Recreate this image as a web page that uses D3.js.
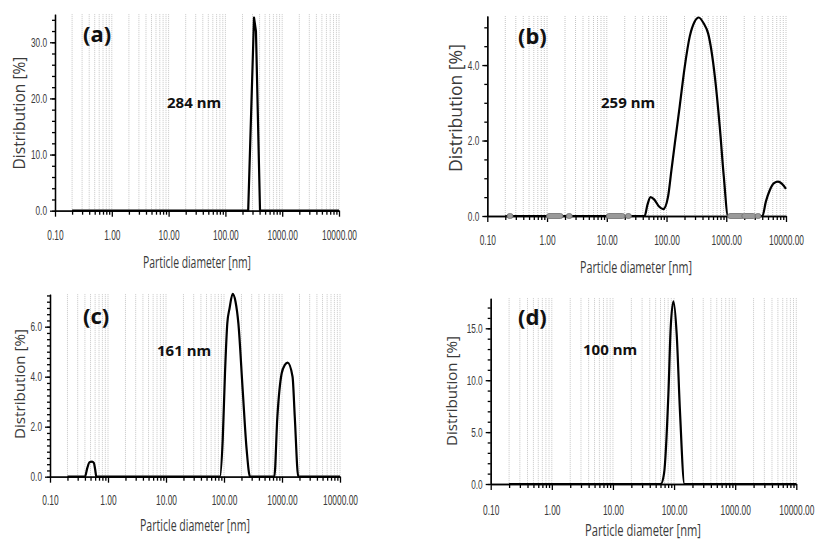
<!DOCTYPE html>
<html>
<head>
<meta charset="utf-8">
<script src="https://cdn.jsdelivr.net/npm/d3@7"></script>
<style>
  body { margin: 0; background: #fff; }
  svg { display: block; }
  .tick text { font-family: "Liberation Sans", Arial, sans-serif; fill: #3a3a3a; }
  .xa .tick text { font-size: 15px; }
  .ya .tick text { font-size: 12.5px; }
  .axis path, .axis line { stroke: #000; stroke-width: 1.3; }
  .ttl { font-family: "Open Sans", "Noto Sans", sans-serif; fill: #3a3a3a; }
  .lab { font-family: "Noto Sans", "Open Sans", sans-serif; font-weight: bold; fill: #111; }
</style>
</head>
<body>
<svg id="chart" width="818" height="540"></svg>
<script>
const xTickLabels = ["0.10", "1.00", "10.00", "100.00", "1000.00", "10000.00"];
const xTickValues = [0.1, 1, 10, 100, 1000, 10000];

// (a) 284 nm
const sizesA = [0.2, 252, 319, 345, 407, 10000];
const distA  = [0, 0, 34.4, 32.0, 0, 0];

// (b) 259 nm
const sizesB = [0.2, 43, 48, 54, 62, 75, 88, 106, 121, 138, 166, 202, 245, 295, 347, 420, 497, 645, 778, 910, 1070, 4030, 4600, 5370, 6300, 7350, 8500, 10000];
const distB  = [0, 0, 0.3, 0.5, 0.44, 0.25, 0.18, 0.51, 1.22, 1.93, 2.9, 3.96, 4.76, 5.15, 5.26, 5.1, 4.84, 3.69, 2.37, 1.04, 0, 0, 0.38, 0.69, 0.87, 0.91, 0.86, 0.72];
// grey markers sitting on the baseline of (b): [from, to] diameter
const markersB = [[0.24, 0.24], [1.1, 1.65], [2.35, 2.35], [11, 18], [23, 23], [1180, 1790], [2040, 2800], [3400, 3400]];

// (c) 161 nm
const sizesC = [0.2, 0.40, 0.44, 0.48, 0.53, 0.57, 0.60, 0.63, 85, 95, 104, 114, 125, 141, 158, 177, 210, 246, 281, 737, 832, 986, 1120, 1250, 1520, 1660, 1910, 10000];
const distC  = [0, 0, 0.35, 0.58, 0.6, 0.55, 0.3, 0, 0, 1.47, 4.13, 6.13, 6.75, 7.31, 7.0, 6.13, 3.47, 1.07, 0, 0, 2.4, 4.13, 4.47, 4.56, 4.0, 2.4, 0, 0];

// (d) 100 nm
const sizesD = [0.2, 60.6, 68.6, 80.7, 88, 97.7, 110.6, 125, 148, 10000];
const distD  = [0, 0, 1.03, 8.6, 15.0, 17.6, 14.35, 6.97, 0, 0];

// y ticks per panel
const yMajorA = [0, 10, 20, 30], yMinorStepA = 2, yMaxA = 35;
const yMajorB = [0, 2, 4], yMinorStepB = 0.5, yMaxB = 5.3;
const yMajorC = [0, 2, 4, 6], yMinorStepC = 0.25, yMaxC = 7.3;
const yMajorD = [0, 5, 10, 15], yMinorStepD = 1, yMaxD = 17.9;

// panel layout (pixel placement only)
const panels = [
  { id: "(a)", note: "284 nm", sizes: sizesA, dist: distA, yMajor: yMajorA, yStep: yMinorStepA, yMax: yMaxA,
    left: 55, right: 339, base: 210.7, top: 14.2, curve: d3.curveLinear, labOff: 29.3,
    labX: 83, labY: 42, noteX: 167, noteY: 108,
    yt: { x: 19, y: 113, len: 113 }, xt: { x: 197, y: 268, len: 108 } },
  { id: "(b)", note: "259 nm", sizes: sizesB, dist: distB, yMajor: yMajorB, yStep: yMinorStepB, yMax: yMaxB,
    left: 487.3, right: 786, base: 216, top: 16, curve: d3.curveMonotoneX, labOff: 29, markers: markersB,
    labX: 518, labY: 44, noteX: 601, noteY: 108,
    yt: { x: 455, y: 108, len: 128 }, xt: { x: 636, y: 273, len: 112 } },
  { id: "(c)", note: "161 nm", sizes: sizesC, dist: distC, yMajor: yMajorC, yStep: yMinorStepC, yMax: yMaxC,
    left: 50, right: 340, base: 476.7, top: 294.2, curve: d3.curveMonotoneX, labOff: 28.3,
    labX: 83, labY: 324, noteX: 157, noteY: 356,
    yt: { x: 19, y: 384, len: 110 }, xt: { x: 195, y: 531, len: 110 } },
  { id: "(d)", note: "100 nm", sizes: sizesD, dist: distD, yMajor: yMajorD, yStep: yMinorStepD, yMax: yMaxD,
    left: 490.7, right: 796.3, base: 484, top: 298.2, curve: d3.curveMonotoneX, labOff: 31,
    labX: 518, labY: 325, noteX: 583, noteY: 355,
    yt: { x: 451, y: 391, len: 110 }, xt: { x: 643, y: 536, len: 116 } }
];

const svg = d3.select("#chart");

// narrow a tick label around its own anchor (the originals use a condensed face)
function squeeze(sel, f) {
  sel.each(function() {
    const t = d3.select(this);
    const x0 = +t.attr("x") || 0;
    t.attr("x", x0 / f).attr("transform", "scale(" + f + ",1)");
  });
}

function drawPanel(p) {
  const g = svg.append("g");
  const x = d3.scaleLog().domain([0.1, 10000]).range([p.left, p.right]);
  const y = d3.scaleLinear().domain([0, p.yMax]).range([p.base, p.top]);

  // minor log positions 2..10 per decade, 0.2 .. 10000
  const gridVals = [];
  for (let e = -1; e < 4; e++) {
    for (let m = 2; m <= 10; m++) gridVals.push(m * Math.pow(10, e));
  }
  g.selectAll(".grid").data(gridVals).enter().append("line")
    .attr("x1", d => x(d)).attr("x2", d => x(d))
    .attr("y1", p.top).attr("y2", p.base)
    .attr("stroke", "#c6c6c6").attr("stroke-width", 1)
    .attr("stroke-dasharray", "1,1");

  // x axis, minor then major
  const minorX = gridVals.filter(d => xTickValues.indexOf(d) < 0);
  g.append("g").attr("class", "axis").attr("transform", "translate(0," + p.base + ")")
    .call(d3.axisBottom(x).tickValues(minorX).tickSize(4).tickSizeOuter(0).tickFormat(""));
  const xa = g.append("g").attr("class", "axis xa").attr("transform", "translate(0," + p.base + ")")
    .call(d3.axisBottom(x).tickValues(xTickValues).tickSize(6).tickSizeOuter(0)
      .tickPadding(p.labOff - 6 - 0.71 * 15)
      .tickFormat((d, i) => xTickLabels[i]));
  squeeze(xa.selectAll("text"), 0.56);

  // y axis
  const minorY = d3.range(0, p.yMax + 1e-9, p.yStep);
  g.append("g").attr("class", "axis").attr("transform", "translate(" + p.left + ",0)")
    .call(d3.axisLeft(y).tickValues(minorY).tickSize(3).tickSizeOuter(0).tickFormat(""));
  const ya = g.append("g").attr("class", "axis ya").attr("transform", "translate(" + p.left + ",0)")
    .call(d3.axisLeft(y).tickValues(p.yMajor).tickSize(5).tickSizeOuter(0).tickPadding(3)
      .tickFormat(d3.format(".1f")));
  squeeze(ya.selectAll("text"), 0.66);

  // distribution curve
  const pts = p.sizes.map((s, i) => [s, p.dist[i]]);
  g.append("path").datum(pts)
    .attr("fill", "none").attr("stroke", "#000").attr("stroke-width", 2.2)
    .attr("stroke-linejoin", "round")
    .attr("d", d3.line().x(d => x(d[0])).y(d => y(d[1])).curve(p.curve));

  if (p.markers) {
    g.selectAll(".mk").data(p.markers).enter().append("rect")
      .attr("x", d => x(d[0]) - 3).attr("y", p.base - 2.5)
      .attr("width", d => x(d[1]) - x(d[0]) + 6).attr("height", 5)
      .attr("rx", 2.5)
      .attr("fill", "#9a9a9a").attr("stroke", "#6e6e6e").attr("stroke-width", 0.8);
  }

  // texts
  g.append("text").attr("class", "lab").attr("x", p.labX).attr("y", p.labY)
    .style("font-size", "22px").text(p.id);
  g.append("text").attr("class", "lab").attr("x", p.noteX).attr("y", p.noteY)
    .style("font-size", "15px").text(p.note);

  const yt = g.append("text").attr("class", "ttl")
    .attr("transform", "translate(" + p.yt.x + "," + p.yt.y + ") rotate(-90)")
    .attr("text-anchor", "middle").attr("dominant-baseline", "central")
    .style("font-size", "15px")
    .text("Distribution [%]");
  yt.style("font-size", (15 * p.yt.len / yt.node().getComputedTextLength()).toFixed(2) + "px");

  const xt = g.append("text").attr("class", "ttl")
    .attr("x", p.xt.x).attr("y", p.xt.y).attr("text-anchor", "middle")
    .style("font-size", "16px")
    .text("Particle diameter [nm]");
  xt.attr("textLength", p.xt.len).attr("lengthAdjust", "spacingAndGlyphs");
}

panels.forEach(drawPanel);
</script>
</body>
</html>
